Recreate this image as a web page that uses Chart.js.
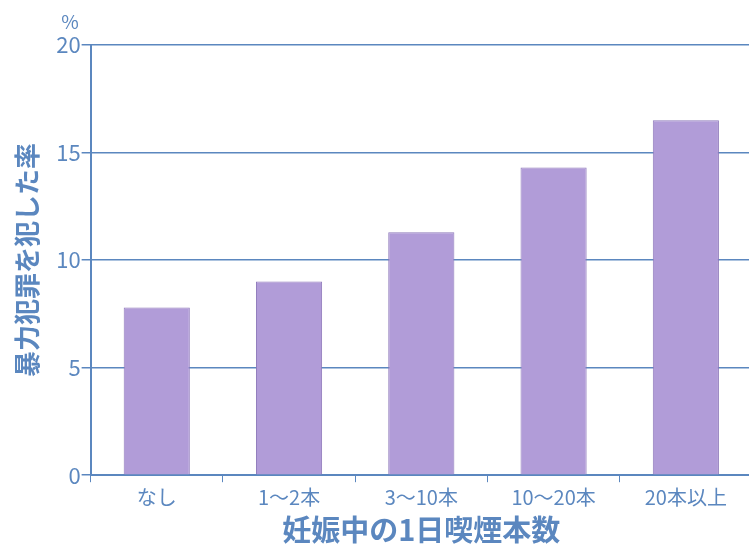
<!DOCTYPE html>
<html>
<head>
<meta charset="utf-8">
<script src="https://cdn.jsdelivr.net/npm/chart.js@4"></script>
<style>
  html, body { margin: 0; padding: 0; background: #fff; overflow: hidden; }
  #wrap { width: 760px; height: 547px; }
</style>
</head>
<body>
<div id="wrap"><canvas id="smokingChart" width="760" height="547"></canvas></div>
<script>
const categories = ['なし', '1～2本', '3～10本', '10～20本', '20本以上'];
const rates = [7.8, 9.0, 11.3, 14.3, 16.5];
const yTicks = [0, 5, 10, 15, 20];

const blue = '#5b87bf';
const font = "'Noto Sans CJK JP', 'Noto Sans', sans-serif";

// "%" above the top tick
const percentMark = {
  id: 'percentMark',
  afterDraw(chart) {
    const y = chart.scales.y;
    const c = chart.ctx;
    c.save();
    c.fillStyle = blue;
    c.font = '19px ' + font;
    c.textAlign = 'center';
    c.textBaseline = 'bottom';
    c.fillText('%', 70, y.getPixelForValue(20) - 14);
    c.restore();
  }
};

new Chart(document.getElementById('smokingChart').getContext('2d'), {
  type: 'bar',
  data: {
    labels: categories,
    datasets: [{
      data: rates,
      backgroundColor: '#b19cd8',
      borderColor: '#8f7abb',
      borderWidth: 1,
      barPercentage: 0.5,
      categoryPercentage: 1
    }]
  },
  options: {
    responsive: false,
    animation: false,
    layout: { padding: { top: 45, left: 12, right: 8, bottom: 0 } },
    plugins: { legend: { display: false }, tooltip: { enabled: false } },
    scales: {
      x: {
        grid: { display: true, drawOnChartArea: false, color: blue, tickLength: 7, offset: true },
        border: { color: blue, width: 2 },
        ticks: { color: blue, font: { family: font, size: 20 }, padding: 3 },
        title: {
          display: true,
          text: '妊娠中の1日喫煙本数',
          color: blue,
          font: { family: font, size: 29, weight: 'bold' },
          padding: { top: 0, bottom: 0 }
        }
      },
      y: {
        min: 0,
        max: 20,
        afterBuildTicks(axis) { axis.ticks = yTicks.map(v => ({ value: v })); },
        grid: { color: blue, lineWidth: 1.5, tickLength: 9 },
        border: { color: blue, width: 2 },
        ticks: { color: blue, font: { family: font, size: 22 }, padding: 1 },
        title: {
          display: true,
          text: '暴力犯罪を犯した率',
          color: blue,
          font: { family: font, size: 26, weight: 'bold' },
          padding: { top: 0, bottom: 12 }
        }
      }
    }
  },
  plugins: [percentMark]
});
</script>
</body>
</html>
